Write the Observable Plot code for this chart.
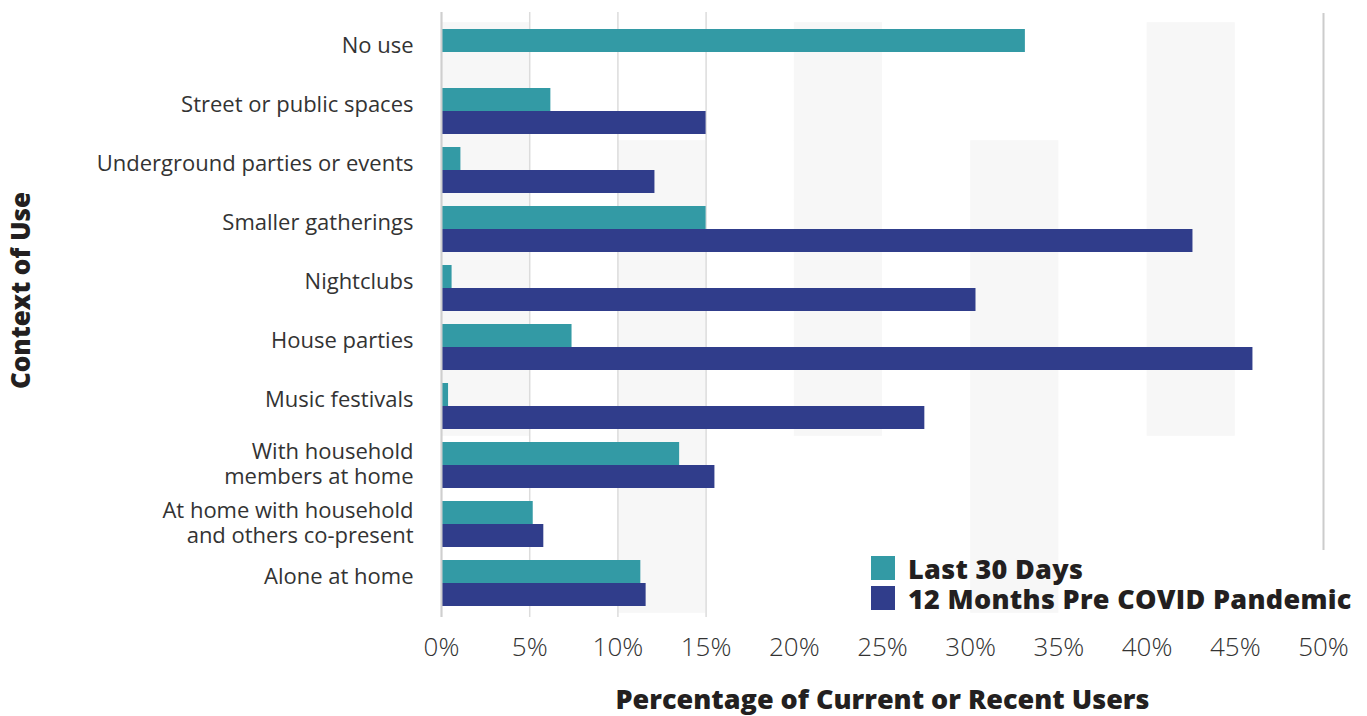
<!DOCTYPE html>
<html>
<head>
<meta charset="utf-8">
<script src="https://cdn.jsdelivr.net/npm/d3@7"></script>
<script src="https://cdn.jsdelivr.net/npm/@observablehq/plot@0.6"></script>
<style>
  html, body { margin: 0; padding: 0; background: #fff; }
  #wrap { position: relative; width: 1367px; height: 716px; overflow: hidden; }
  #legend { position: absolute; left: 871px; top: 553px; font-family: "Open Sans", sans-serif; font-weight: 800; font-size: 27px; line-height: 30px; color: #231f20; }
  #legend .row { display: flex; align-items: center; height: 30px; }
  #legend .sw { width: 24px; height: 24px; margin-right: 13px; flex: none; }
  #legend .lab { position: relative; top: 1px; white-space: nowrap; letter-spacing: 0.3px; line-height: 30px; }
</style>
</head>
<body>
<div id="wrap"></div>
<script>
// ---- data ----
const categories = [
  "No use",
  "Street or public spaces",
  "Underground parties or events",
  "Smaller gatherings",
  "Nightclubs",
  "House parties",
  "Music festivals",
  "With household\nmembers at home",
  "At home with household\nand others co-present",
  "Alone at home"
];
const seriesNames = ["Last 30 Days", "12 Months Pre COVID Pandemic"];
const last30Days = [33.1, 6.2, 1.1, 15.0, 0.6, 7.4, 0.4, 13.5, 5.2, 11.3];
const preCovid12Months = [null, 15.0, 12.1, 42.6, 30.3, 46.0, 27.4, 15.5, 5.8, 11.6];
const seriesColors = ["#339aa5", "#303d8b"];
const xTicks = [0, 5, 10, 15, 20, 25, 30, 35, 40, 45, 50];
const gridTicks = [0, 5, 10, 15];
const xDomain = [0, 50];
// faint alternating background bands (x range, first & last category covered)
const bandStart = [0, 10, 20, 30, 40];
const bandEnd = [5, 15, 25, 35, 45];
const bandFromCat = [0, 2, 0, 2, 0];
const bandToCat = [6, 9, 6, 9, 6];
const xTitle = "Percentage of Current or Recent Users";
const yTitle = "Context of Use";

// ---- tables ----
const rows = [];
categories.forEach((c, i) => {
  rows.push({category: c, series: seriesNames[0], value: last30Days[i]});
  if (preCovid12Months[i] != null) rows.push({category: c, series: seriesNames[1], value: preCovid12Months[i]});
});
const bandRows = [];
bandStart.forEach((s, b) => {
  for (let i = bandFromCat[b]; i <= bandToCat[b]; i++) bandRows.push({x1: s, x2: bandEnd[b], category: categories[i]});
});
const single = categories.filter(c => !c.includes("\n"));
const multi = categories.filter(c => c.includes("\n"));

const font = "'Open Sans', sans-serif";
const step = (615 - 19) / 10;
const gap = step * 0.228 / 2;

const chart = Plot.plot({
  width: 1367,
  height: 716,
  marginLeft: 441,
  marginRight: 44,
  marginTop: 19,
  marginBottom: 101,
  style: {fontFamily: font, background: "#fff"},
  x: {domain: xDomain, axis: null},
  y: {domain: categories, axis: null, paddingInner: 0.228, paddingOuter: 0.114},
  color: {domain: seriesNames, range: seriesColors},
  marks: [
    Plot.barX(bandRows, {x1: "x1", x2: "x2", y: "category", fill: "#f7f7f7", insetTop: -gap, insetBottom: -gap}),
    Plot.ruleX(gridTicks, {stroke: "#dcdcdc", strokeWidth: 1.5, insetTop: -7, insetBottom: -2}),
    Plot.ruleX([xDomain[1]], {stroke: "#cccccc", strokeWidth: 2, insetTop: -6, insetBottom: 65}),
    Plot.barX(rows.filter(d => d.series === seriesNames[0]), {x: "value", y: "category", fill: "series", insetBottom: 23}),
    Plot.barX(rows.filter(d => d.series === seriesNames[1]), {x: "value", y: "category", fill: "series", insetTop: 23}),
    Plot.ruleX([xDomain[0]], {stroke: "#cfcfcf", strokeWidth: 2, insetTop: -7, insetBottom: -2}),
    Plot.text(single, {y: d => d, text: d => d, frameAnchor: "left", textAnchor: "end", dx: -28, dy: -7, fontSize: 22, letterSpacing: 0.7, fill: "#333"}),
    Plot.text(multi, {y: d => d, text: d => d, frameAnchor: "left", textAnchor: "end", dx: -28, dy: -2, fontSize: 22, letterSpacing: 0.7, lineHeight: 1.12, fill: "#333"}),
    Plot.axisX(xTicks, {tickSize: 0, tickPadding: 22, tickFormat: d => d + "%", fontSize: 26, fontWeight: 300, fill: "#333", label: null}),
    Plot.text([xTitle], {frameAnchor: "bottom", dy: 93, text: d => d, fontSize: 27, fontWeight: 800, letterSpacing: 0.7, fill: "#231f20"}),
    Plot.text([yTitle], {frameAnchor: "left", textAnchor: "middle", dx: -420, dy: -27, rotate: -90, text: d => d, fontSize: 26, fontWeight: 800, letterSpacing: 0.6, fill: "#231f20"})
  ]
});

const wrap = document.getElementById("wrap");
wrap.appendChild(chart);

const legend = document.createElement("div");
legend.id = "legend";
seriesNames.forEach((s, i) => {
  const row = document.createElement("div");
  row.className = "row";
  const sw = document.createElement("span");
  sw.className = "sw";
  sw.style.background = seriesColors[i];
  const lab = document.createElement("span");
  lab.className = "lab";
  lab.textContent = s;
  row.appendChild(sw);
  row.appendChild(lab);
  legend.appendChild(row);
});
wrap.appendChild(legend);
</script>
</body>
</html>
